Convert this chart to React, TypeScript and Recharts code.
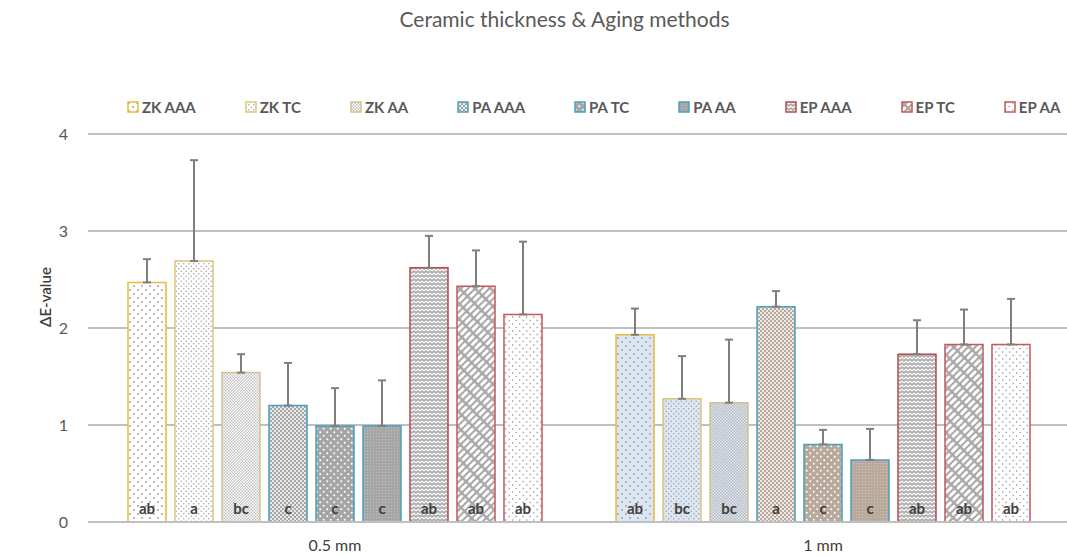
import React from "react";
import {
  BarChart,
  Bar,
  Cell,
  XAxis,
  YAxis,
  CartesianGrid,
  ErrorBar,
  LabelList,
} from "recharts";

const categories = ["0.5 mm", "1 mm"];
const seriesNames = [
  "ZK AAA",
  "ZK TC",
  "ZK AA",
  "PA AAA",
  "PA TC",
  "PA AA",
  "EP AAA",
  "EP TC",
  "EP AA",
];

// mean ΔE per series, [0.5 mm, 1 mm]
const zkAAA = [2.47, 1.93];
const zkTC = [2.69, 1.27];
const zkAA = [1.54, 1.23];
const paAAA = [1.2, 2.22];
const paTC = [0.99, 0.8];
const paAA = [0.99, 0.64];
const epAAA = [2.62, 1.73];
const epTC = [2.43, 1.83];
const epAA = [2.14, 1.83];

// standard deviation (upper error only)
const zkAAASd = [0.24, 0.27];
const zkTCSd = [1.04, 0.44];
const zkAASd = [0.19, 0.65];
const paAAASd = [0.44, 0.16];
const paTCSd = [0.39, 0.15];
const paAASd = [0.47, 0.32];
const epAAASd = [0.33, 0.35];
const epTCSd = [0.37, 0.36];
const epAASd = [0.75, 0.47];

// significance letters
const zkAAALetters = ["ab", "ab"];
const zkTCLetters = ["a", "bc"];
const zkAALetters = ["bc", "bc"];
const paAAALetters = ["c", "a"];
const paTCLetters = ["c", "c"];
const paAALetters = ["c", "c"];
const epAAALetters = ["ab", "ab"];
const epTCLetters = ["ab", "ab"];
const epAALetters = ["ab", "ab"];

const yTicks = [0, 1, 2, 3, 4];

const means = [zkAAA, zkTC, zkAA, paAAA, paTC, paAA, epAAA, epTC, epAA];
const sds = [zkAAASd, zkTCSd, zkAASd, paAAASd, paTCSd, paAASd, epAAASd, epTCSd, epAASd];
const letters = [
  zkAAALetters,
  zkTCLetters,
  zkAALetters,
  paAAALetters,
  paTCLetters,
  paAALetters,
  epAAALetters,
  epTCLetters,
  epAALetters,
];

const strokes = [
  "#E8BC3A",
  "#DCC67E",
  "#D2C28E",
  "#4A9FC0",
  "#4A9FC0",
  "#4A9FC0",
  "#B8474A",
  "#C4575A",
  "#C4575A",
];

const keyOf = (i: number) => `s${i}`;

const data = categories.map((cat, c) => {
  const row: Record<string, any> = { name: cat };
  means.forEach((m, i) => {
    row[keyOf(i)] = m[c];
    row[`${keyOf(i)}_err`] = [0, sds[i][c]];
    row[`${keyOf(i)}_lbl`] = letters[i][c];
  });
  return row;
});

const ZK_BG = ["#FFFFFF", "#DDE6F3"];
const PA_BG = ["#A6A6A6", "#B9A99B"];

const Patterns = () => (
  <defs>
    {[0, 1].map((g) => (
      <React.Fragment key={g}>
        <pattern id={`p0-${g}`} width="8" height="8" patternUnits="userSpaceOnUse">
          <rect width="8" height="8" fill={ZK_BG[g]} />
          <circle cx="2" cy="2" r="0.9" fill="#9a9a9a" />
          <circle cx="6" cy="6" r="0.9" fill="#9a9a9a" />
        </pattern>
        <pattern id={`p1-${g}`} width="5" height="5" patternUnits="userSpaceOnUse">
          <rect width="5" height="5" fill={ZK_BG[g]} />
          <circle cx="1.25" cy="1.25" r="0.75" fill="#a0a0a0" />
          <circle cx="3.75" cy="3.75" r="0.75" fill="#a0a0a0" />
        </pattern>
        <pattern id={`p2-${g}`} width="3" height="3" patternUnits="userSpaceOnUse">
          <rect width="3" height="3" fill={ZK_BG[g]} />
          <rect width="1.5" height="1.5" fill="#a8a8a8" opacity="0.7" />
          <rect x="1.5" y="1.5" width="1.5" height="1.5" fill="#a8a8a8" opacity="0.7" />
        </pattern>
        <pattern id={`p3-${g}`} width="4" height="4" patternUnits="userSpaceOnUse">
          <rect width="4" height="4" fill={PA_BG[g]} />
          <rect width="2" height="2" fill="#ffffff" opacity="0.75" />
          <rect x="2" y="2" width="2" height="2" fill="#ffffff" opacity="0.75" />
        </pattern>
        <pattern id={`p4-${g}`} width="7" height="7" patternUnits="userSpaceOnUse">
          <rect width="7" height="7" fill={PA_BG[g]} />
          <circle cx="1.75" cy="1.75" r="1" fill="#ffffff" />
          <circle cx="5.25" cy="5.25" r="1" fill="#ffffff" />
        </pattern>
        <pattern id={`p5-${g}`} width="3" height="3" patternUnits="userSpaceOnUse">
          <rect width="3" height="3" fill={PA_BG[g]} />
          <circle cx="1.5" cy="1.5" r="0.6" fill="#ffffff" opacity="0.35" />
        </pattern>
        <pattern id={`p6-${g}`} width="8" height="8" patternUnits="userSpaceOnUse">
          <rect width="8" height="8" fill="#ababab" />
          <polyline points="0,3 2,1 4,3 6,1 8,3" fill="none" stroke="#ffffff" strokeWidth="1.2" />
          <polyline points="0,7 2,5 4,7 6,5 8,7" fill="none" stroke="#ffffff" strokeWidth="1.2" />
        </pattern>
        <pattern
          id={`p7-${g}`}
          width="11"
          height="5"
          patternUnits="userSpaceOnUse"
          patternTransform="rotate(-45)"
        >
          <rect width="11" height="5" fill="#a8a8a8" />
          <rect x="1" y="1" width="9" height="3" rx="1.5" fill="#ffffff" />
        </pattern>
        <pattern id={`p8-${g}`} width="7" height="7" patternUnits="userSpaceOnUse">
          <rect width="7" height="7" fill="#ffffff" />
          <path d="M1,1 L3,2 L1,3 Z" fill="#a0a0a0" />
          <path d="M4.5,4.5 L6.5,5.5 L4.5,6.5 Z" fill="#a0a0a0" />
        </pattern>
      </React.Fragment>
    ))}
  </defs>
);

const font = "Lato, 'Open Sans', sans-serif";

const LetterLabel = (props: any) => {
  const { x, y, width, height, value } = props;
  return (
    <text
      x={x + width / 2}
      y={y + height - 8}
      textAnchor="middle"
      fontSize={15}
      fontWeight={700}
      fill="#404040"
      fontFamily={font}
    >
      {value}
    </text>
  );
};

export default function App() {
  return (
    <div
      style={{
        position: "absolute",
        left: 0,
        top: 0,
        width: 1067,
        height: 559,
        background: "#ffffff",
        fontFamily: font,
      }}
    >
      <div
        style={{
          position: "absolute",
          top: 6,
          left: 31,
          width: 1067,
          textAlign: "center",
          fontSize: 21,
          color: "#595959",
        }}
      >
        Ceramic thickness &amp; Aging methods
      </div>
      <div
        style={{
          position: "absolute",
          top: 98,
          left: 127,
          display: "flex",
          gap: 49,
          fontSize: 15,
          fontWeight: 700,
          color: "#595959",
        }}
      >
        {seriesNames.map((n, i) => (
          <div key={n} style={{ display: "flex", alignItems: "center" }}>
            <svg width={12} height={12} style={{ marginRight: 3 }}>
              <rect
                x={1}
                y={1}
                width={10}
                height={10}
                fill={`url(#p${i}-0)`}
                stroke={strokes[i]}
                strokeWidth={1.5}
              />
            </svg>
            <span>{n}</span>
          </div>
        ))}
      </div>
      <div
        style={{
          position: "absolute",
          left: 45,
          top: 297,
          transform: "translate(-50%, -50%) rotate(-90deg)",
          fontSize: 15,
          fontWeight: 600,
          color: "#404040",
          whiteSpace: "nowrap",
        }}
      >
        ΔE-value
      </div>
      <BarChart
        width={1067}
        height={559}
        data={data}
        margin={{ top: 134, right: 0, left: 0, bottom: 0 }}
        barCategoryGap={37}
        barGap={9}
        style={{ position: "absolute", left: 0, top: 0 }}
      >
        <Patterns />
        <CartesianGrid vertical={false} stroke="#BFBFBF" strokeWidth={2} />
        <XAxis
          dataKey="name"
          height={37}
          padding={{ left: 3, right: 0 }}
          axisLine={{ stroke: "#BFBFBF", strokeWidth: 2 }}
          tickLine={false}
          tickMargin={12}
          tick={{ fill: "#404040", fontSize: 16, fontFamily: font }}
        />
        <YAxis
          width={88}
          domain={[0, 4]}
          ticks={yTicks}
          axisLine={false}
          tickLine={false}
          tickMargin={14}
          tick={{ fill: "#595959", fontSize: 16, fontFamily: font }}
        />
        {seriesNames.map((n, i) => (
          <Bar
            key={n}
            dataKey={keyOf(i)}
            name={n}
            stroke={strokes[i]}
            strokeWidth={1.5}
            isAnimationActive={false}
          >
            {data.map((_, c) => (
              <Cell key={c} fill={`url(#p${i}-${c})`} />
            ))}
            <ErrorBar
              dataKey={`${keyOf(i)}_err`}
              direction="y"
              width={4}
              stroke="#7F7F7F"
              strokeWidth={2}
            />
            <LabelList dataKey={`${keyOf(i)}_lbl`} content={LetterLabel} />
          </Bar>
        ))}
      </BarChart>
    </div>
  );
}
